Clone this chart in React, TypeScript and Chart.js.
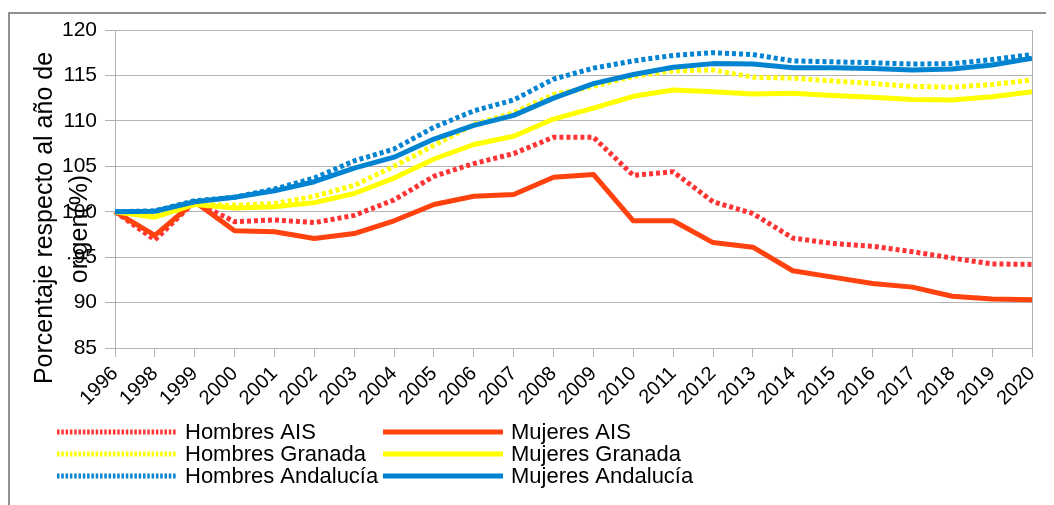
import React, { useEffect, useRef } from 'react';
import { Chart, registerables } from 'chart.js';

Chart.register(...registerables);

const years = ['1996', '1998', '1999', '2000', '2001', '2002', '2003', '2004', '2005', '2006', '2007', '2008', '2009', '2010', '2011', '2012', '2013', '2014', '2015', '2016', '2017', '2018', '2019', '2020'];

const hombresAIS = [100, 96.9, 101.1, 98.9, 99.1, 98.8, 99.6, 101.3, 103.9, 105.3, 106.4, 108.2, 108.2, 104.0, 104.4, 101.1, 99.8, 97.1, 96.5, 96.2, 95.6, 94.9, 94.25, 94.2];
const mujeresAIS = [100, 97.4, 101.1, 97.9, 97.8, 97.05, 97.6, 99.0, 100.8, 101.7, 101.9, 103.8, 104.1, 99.0, 99.0, 96.6, 96.1, 93.5, 92.8, 92.1, 91.7, 90.7, 90.4, 90.3];
const hombresGranada = [100, 99.5, 100.8, 100.7, 100.9, 101.7, 102.9, 105.0, 107.3, 109.6, 110.9, 112.9, 113.8, 114.9, 115.5, 115.6, 114.8, 114.7, 114.4, 114.1, 113.8, 113.7, 114.0, 114.5];
const mujeresGranada = [100, 99.4, 100.8, 100.4, 100.55, 101.0, 102.0, 103.7, 105.8, 107.4, 108.3, 110.2, 111.4, 112.7, 113.4, 113.2, 112.95, 113.05, 112.8, 112.6, 112.35, 112.3, 112.65, 113.2];
const hombresAndalucia = [100, 100.1, 101.2, 101.6, 102.5, 103.7, 105.6, 106.9, 109.3, 111.1, 112.3, 114.6, 115.8, 116.6, 117.2, 117.5, 117.3, 116.6, 116.5, 116.4, 116.25, 116.3, 116.75, 117.3];
const mujeresAndalucia = [100, 100.05, 101.1, 101.6, 102.3, 103.3, 104.8, 106.0, 108.0, 109.5, 110.6, 112.5, 114.1, 115.1, 115.9, 116.3, 116.25, 115.85, 115.85, 115.75, 115.6, 115.7, 116.15, 116.9];

const seriesNames = ['Hombres AIS', 'Mujeres AIS', 'Hombres Granada', 'Mujeres Granada', 'Hombres Andalucía', 'Mujeres Andalucía'];
const seriesValues = [hombresAIS, mujeresAIS, hombresGranada, mujeresGranada, hombresAndalucia, mujeresAndalucia];
const seriesColors = ['#ff3333', '#ff420e', '#ffff00', '#ffff00', '#0084d1', '#0084d1'];
const seriesDotted = [true, false, true, false, true, false];

const yMin = 85;
const yMax = 120;
const yStep = 5;
const yTitleLines = ['Porcentaje respecto al año de', 'origen(%)'];

const FONT = '"Liberation Sans", Arial, sans-serif';
const W = 1046;
const H = 497;

const extrasPlugin = {
  id: 'extras',
  afterDraw(chart: any) {
    const ctx = chart.ctx as CanvasRenderingContext2D;
    const area = chart.chartArea;
    ctx.save();
    // outer frame (top and left)
    ctx.strokeStyle = '#6e6e6e';
    ctx.lineWidth = 1.5;
    ctx.beginPath();
    ctx.moveTo(1, H);
    ctx.lineTo(1, 5);
    ctx.lineTo(W, 5);
    ctx.stroke();
    // right border of plot area
    ctx.strokeStyle = '#b3b3b3';
    ctx.lineWidth = 1;
    ctx.beginPath();
    ctx.moveTo(area.right + 0.5, area.top);
    ctx.lineTo(area.right + 0.5, area.bottom);
    ctx.stroke();
    // y axis title (two lines, rotated)
    ctx.fillStyle = '#000';
    ctx.font = `25px ${FONT}`;
    ctx.textAlign = 'center';
    ctx.textBaseline = 'middle';
    const titleX = [37, 72];
    const titleY = [210, 221];
    yTitleLines.forEach((line, i) => {
      ctx.save();
      ctx.translate(titleX[i], titleY[i]);
      ctx.rotate(-Math.PI / 2);
      ctx.fillText(line, 0, 0);
      ctx.restore();
    });
    // custom legend, two columns
    const colSample = [49, 375];
    const sampleW = 120;
    const rowY = [424, 446, 468];
    ctx.font = `22px ${FONT}`;
    ctx.textAlign = 'left';
    chart.data.datasets.forEach((ds: any, i: number) => {
      const col = i % 2;
      const row = Math.floor(i / 2);
      const x0 = colSample[col];
      const y = rowY[row];
      ctx.save();
      ctx.strokeStyle = ds.borderColor;
      ctx.lineWidth = 5;
      ctx.lineCap = 'butt';
      ctx.setLineDash(seriesDotted[i] ? [2.5, 1.8] : []);
      ctx.beginPath();
      ctx.moveTo(x0, y);
      ctx.lineTo(x0 + sampleW, y);
      ctx.stroke();
      ctx.restore();
      ctx.fillStyle = '#000';
      ctx.fillText(ds.label, x0 + sampleW + 8, y + 1);
    });
    ctx.restore();
  },
};

export default function App() {
  const ref = useRef<HTMLCanvasElement | null>(null);
  useEffect(() => {
    if (!ref.current) return;
    const datasets = seriesNames.map((name, i) => ({
      label: name,
      data: seriesValues[i],
      borderColor: seriesColors[i],
      backgroundColor: seriesColors[i],
      borderWidth: 5,
      borderDash: seriesDotted[i] ? [4, 3] : [],
      borderCapStyle: 'butt' as const,
      borderJoinStyle: seriesDotted[i] ? ('miter' as const) : ('round' as const),
      pointRadius: 0,
      tension: 0,
      fill: false,
      order: seriesNames.length - 1 - i,
    }));
    const chart = new Chart(ref.current, {
      type: 'line',
      data: { labels: years, datasets },
      options: {
        animation: false,
        responsive: false,
        devicePixelRatio: 1,
        layout: { padding: { top: 22, right: 22, left: 0, bottom: 0 } },
        plugins: {
          legend: { display: false },
          title: { display: false },
          tooltip: { enabled: false },
        },
        scales: {
          x: {
            offset: false,
            grid: {
              display: true,
              drawOnChartArea: false,
              drawTicks: true,
              tickLength: 9,
              color: '#b3b3b3',
            },
            border: { display: true, color: '#b3b3b3' },
            ticks: {
              autoSkip: false,
              maxRotation: 45,
              minRotation: 45,
              padding: 5,
              color: '#000',
              font: { family: FONT, size: 20 },
            },
            afterFit(scale: any) {
              scale.height = 157;
            },
          },
          y: {
            min: yMin,
            max: yMax,
            grid: {
              color: '#b3b3b3',
              tickLength: 10,
            },
            border: { display: true, color: '#b3b3b3' },
            ticks: {
              stepSize: yStep,
              padding: 8,
              color: '#000',
              font: { family: FONT, size: 21 },
            },
            afterFit(scale: any) {
              scale.width = 107;
            },
          },
        },
      },
      plugins: [extrasPlugin],
    });
    return () => chart.destroy();
  }, []);
  return (
    <div style={{ width: W, height: H }}>
      <canvas ref={ref} width={W} height={H} style={{ display: 'block', width: W, height: H }} />
    </div>
  );
}
